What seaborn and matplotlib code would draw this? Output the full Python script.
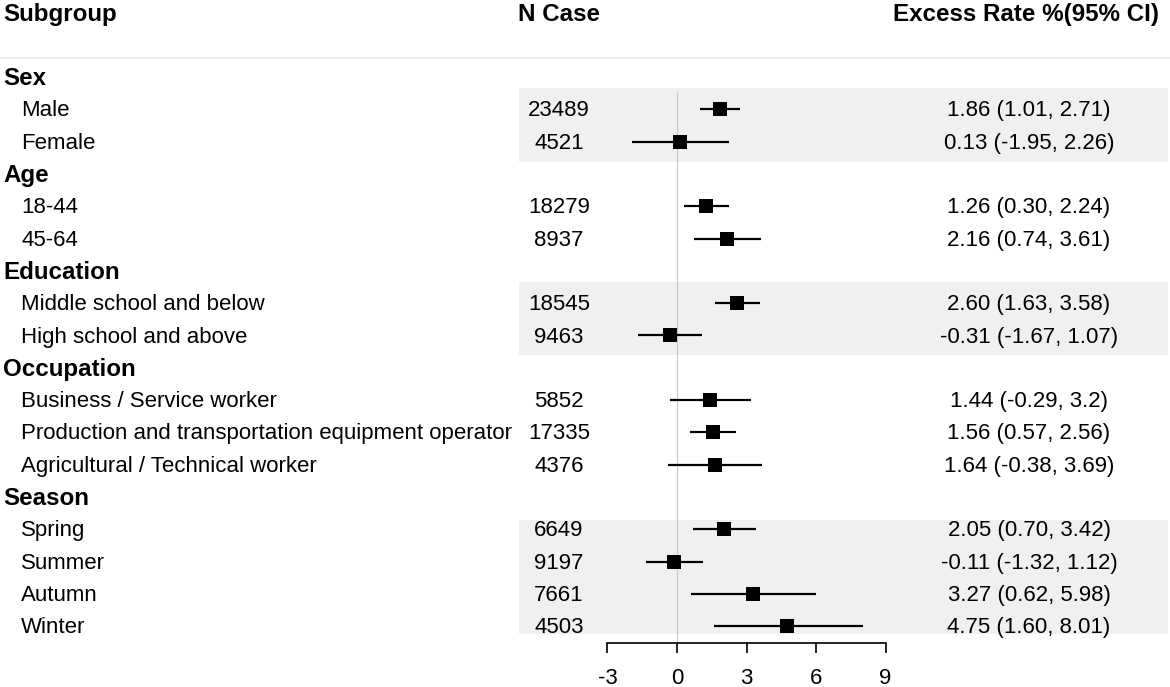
import numpy as np
import pandas as pd
import seaborn as sns
import matplotlib.pyplot as plt
from matplotlib.transforms import blended_transform_factory

# ---- data ----
groups = ["Sex", "Age", "Education", "Occupation", "Season"]
subgroups = [
    "Male", "Female",
    "18-44", "45-64",
    "Middle school and below", "High school and above",
    "Business / Service worker",
    "Production and transportation equipment operator",
    "Agricultural / Technical worker",
    "Spring", "Summer", "Autumn", "Winter",
]
subgroup_group = [
    "Sex", "Sex", "Age", "Age", "Education", "Education",
    "Occupation", "Occupation", "Occupation",
    "Season", "Season", "Season", "Season",
]
n_case = [23489, 4521, 18279, 8937, 18545, 9463, 5852, 17335, 4376,
          6649, 9197, 7661, 4503]
estimate = [1.86, 0.13, 1.26, 2.16, 2.60, -0.31, 1.44, 1.56, 1.64,
            2.05, -0.11, 3.27, 4.75]
ci_low = [1.01, -1.95, 0.30, 0.74, 1.63, -1.67, -0.29, 0.57, -0.38,
          0.70, -1.32, 0.62, 1.60]
ci_high = [2.71, 2.26, 2.24, 3.61, 3.58, 1.07, 3.2, 2.56, 3.69,
           3.42, 1.12, 5.98, 8.01]
ci_text = [
    "1.86 (1.01, 2.71)", "0.13 (-1.95, 2.26)",
    "1.26 (0.30, 2.24)", "2.16 (0.74, 3.61)",
    "2.60 (1.63, 3.58)", "-0.31 (-1.67, 1.07)",
    "1.44 (-0.29, 3.2)", "1.56 (0.57, 2.56)", "1.64 (-0.38, 3.69)",
    "2.05 (0.70, 3.42)", "-0.11 (-1.32, 1.12)",
    "3.27 (0.62, 5.98)", "4.75 (1.60, 8.01)",
]
x_ticks = [-3, 0, 3, 6, 9]
shaded_groups = ["Sex", "Education", "Season"]

# ---- layout (pixels of a 1170x687 canvas) ----
W, H = 1170, 687
zero_px, unit_px = 677, 23.17      # x position of 0 and pixels per unit
row0_px, row_px = 77, 32.3         # first row centre and row height
text_dy = 0.05                     # nudge text down a touch to sit on the marker line
band_pad = {"Sex": (0.65, 0.62), "Education": (0.65, 0.62), "Season": (0.28, 0.25)}


def fx(px):
    return px / W


def prow(px):
    return (px - row0_px) / row_px


# build the row table
row_labels, row_bold, row_pos = [], [], []
sub_rows = []
i = 0
for g in groups:
    row_labels.append(g)
    row_bold.append(True)
    row_pos.append(i)
    i += 1
    for s, sg in zip(subgroups, subgroup_group):
        if sg == g:
            row_labels.append(s)
            row_bold.append(False)
            row_pos.append(i)
            sub_rows.append(i)
            i += 1

df = pd.DataFrame({
    "subgroup": subgroups,
    "group": subgroup_group,
    "n": n_case,
    "est": estimate,
    "lo": ci_low,
    "hi": ci_high,
    "txt": ci_text,
    "row": sub_rows,
})

sns.set_style("white")
plt.rcParams["font.family"] = ["Liberation Sans", "DejaVu Sans"]
plt.rcParams["axes.unicode_minus"] = False
plt.rcParams["text.color"] = "black"
plt.rcParams["xtick.color"] = "black"
plt.rcParams["xtick.labelcolor"] = "black"

fig = plt.figure(figsize=(W / 100, H / 100), dpi=100)
ax = fig.add_axes([0, 0, 1, 1])
ax.set_facecolor("none")

# shaded group bands
for g in shaded_groups:
    rows = df.loc[df["group"] == g, "row"]
    top, bot = band_pad[g]
    ax.axhspan(rows.min() - top, rows.max() + bot, xmin=fx(519), xmax=fx(1168),
               color="#f0f0f0", lw=0, zorder=0)

# separator under header
ax.axhline(prow(58), color="#ebebeb", lw=1.5, zorder=0)

# reference line at 0
axis_y = prow(643)
ax.vlines(0, prow(91), axis_y, color="#c8c8c8", lw=0.9, zorder=1)

# CIs and point estimates
ax.hlines(df["row"], df["lo"], df["hi"], color="black", lw=1.6, zorder=2)
sns.scatterplot(data=df, x="est", y="row", marker="s", s=90, color="black",
                linewidth=0, ax=ax, zorder=3, legend=False)

# text columns
tr = blended_transform_factory(ax.transAxes, ax.transData)
head_y = -2 + text_dy
ax.text(fx(3), head_y, "Subgroup", transform=tr, ha="left", va="center",
        fontsize=17.4, fontweight="bold", color="black")
ax.text(fx(559), head_y, "N Case", transform=tr, ha="center", va="center",
        fontsize=17.4, fontweight="bold", color="black")
ax.text(fx(1026), head_y, "Excess Rate %(95% CI)", transform=tr, ha="center",
        va="center", fontsize=17.4, fontweight="bold", color="black")

for lab, bold, r in zip(row_labels, row_bold, row_pos):
    if bold:
        ax.text(fx(3), r + text_dy, lab, transform=tr, ha="left", va="center",
                fontsize=17.4, fontweight="bold", color="black")
    else:
        ax.text(fx(21), r + text_dy, lab, transform=tr, ha="left", va="center",
                fontsize=16, color="black")

for _, rw in df.iterrows():
    ax.text(fx(559), rw["row"] + text_dy, str(rw["n"]), transform=tr,
            ha="center", va="center", fontsize=16, color="black")
    ax.text(fx(1029), rw["row"] + text_dy, rw["txt"], transform=tr,
            ha="center", va="center", fontsize=16, color="black")

# x axis
ax.set_xlim(-zero_px / unit_px, (W - zero_px) / unit_px)
ax.set_ylim(prow(H), prow(0))
for side in ["top", "left", "right"]:
    ax.spines[side].set_visible(False)
ax.spines["bottom"].set_position(("data", axis_y))
ax.spines["bottom"].set_bounds(x_ticks[0], x_ticks[-1])
ax.spines["bottom"].set_linewidth(1.2)
ax.spines["bottom"].set_color("black")
ax.set_xticks(x_ticks)
ax.set_xticklabels([str(t) for t in x_ticks])
ax.set_yticks([])
ax.tick_params(axis="x", direction="out", length=7.2, width=1.2, pad=11,
               labelsize=16, bottom=True, color="black", labelcolor="black")
ax.set_xlabel("")
ax.set_ylabel("")

fig.savefig("out.png", dpi=100)
